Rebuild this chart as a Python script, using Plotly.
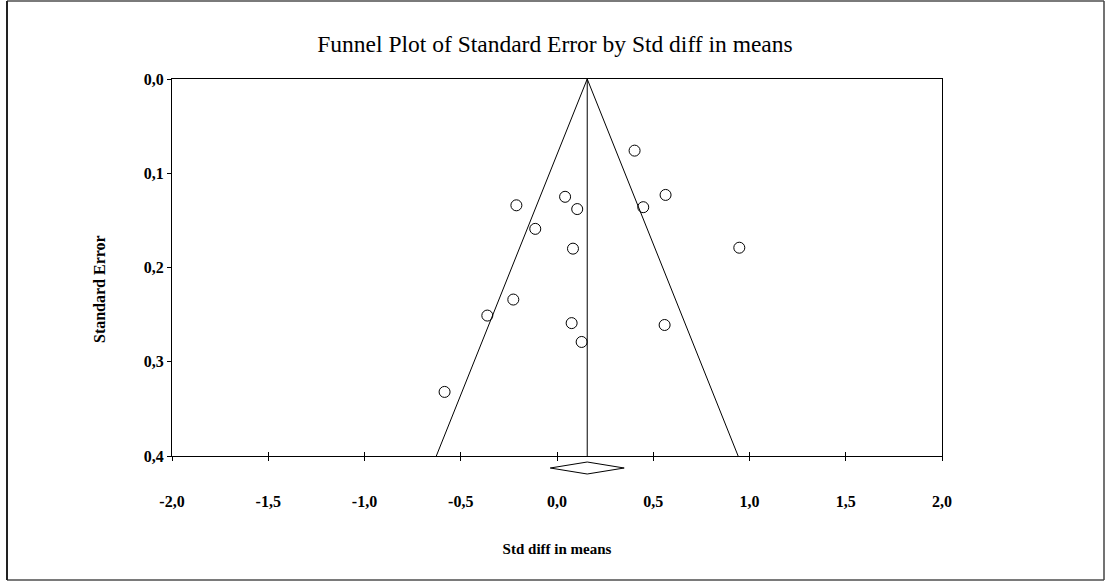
import plotly.graph_objects as go

# ---- data ----
effect = [0.403, -0.211, 0.042, 0.105, -0.113, 0.083, 0.564, 0.448, 0.947,
          -0.227, -0.362, 0.076, 0.128, 0.559, -0.584]
std_err = [0.076, 0.134, 0.125, 0.138, 0.159, 0.180, 0.123, 0.136, 0.179,
           0.234, 0.251, 0.259, 0.279, 0.261, 0.332]
pooled_mean = 0.157
pooled_ci = [-0.035, 0.349]
se_max = 0.4

x_tickvals = [-2.0, -1.5, -1.0, -0.5, 0.0, 0.5, 1.0, 1.5, 2.0]
x_ticktext = ["-2,0", "-1,5", "-1,0", "-0,5", "0,0", "0,5", "1,0", "1,5", "2,0"]
y_tickvals = [0.0, 0.1, 0.2, 0.3, 0.4]
y_ticktext = ["0,0", "0,1", "0,2", "0,3", "0,4"]

FONT = "Liberation Serif"

fig = go.Figure()

# funnel (pseudo 95% limits)
fig.add_trace(go.Scatter(
    x=[pooled_mean - 1.96 * se_max, pooled_mean, pooled_mean + 1.96 * se_max],
    y=[se_max, 0.0, se_max],
    mode="lines", line=dict(color="black", width=1),
    hoverinfo="skip", showlegend=False))
# vertical mean line
fig.add_trace(go.Scatter(
    x=[pooled_mean, pooled_mean], y=[0.0, se_max],
    mode="lines", line=dict(color="black", width=1),
    hoverinfo="skip", showlegend=False))
# studies
fig.add_trace(go.Scatter(
    x=effect, y=std_err, mode="markers",
    marker=dict(symbol="circle-open", size=11, color="black",
                line=dict(color="black", width=1)),
    showlegend=False, cliponaxis=False))

# pixel geometry
W, H = 1107, 583
L, R, T, B = 172, 165, 79, 127
pw, ph = W - L - R, H - T - B

def px_x(p):
    return (p - L) / pw

def px_y(p):
    return (H - B - p) / ph

# diamond (x in data, y in paper)
yc, yt, yb = px_y(468), px_y(462), px_y(474)
diamond = (f"M {pooled_ci[0]},{yc} L {pooled_mean},{yt} L {pooled_ci[1]},{yc} "
           f"L {pooled_mean},{yb} Z")
shapes = [dict(type="path", path=diamond, xref="x", yref="paper",
               line=dict(color="black", width=1), fillcolor="white")]

# outer border
bx0, bx1, by0, by1 = px_x(7), px_x(1104), px_y(580), px_y(1)
shapes += [
    dict(type="line", xref="paper", yref="paper", x0=bx0, x1=bx1, y0=by1, y1=by1,
         line=dict(color="#7a7a7a", width=2)),
    dict(type="line", xref="paper", yref="paper", x0=bx0, x1=bx1, y0=by0, y1=by0,
         line=dict(color="#7a7a7a", width=2)),
    dict(type="line", xref="paper", yref="paper", x0=bx0, x1=bx0, y0=by0, y1=by1,
         line=dict(color="#222222", width=2)),
    dict(type="line", xref="paper", yref="paper", x0=bx1, x1=bx1, y0=by0, y1=by1,
         line=dict(color="#444444", width=1.5)),
]

fig.update_layout(
    width=W, height=H,
    margin=dict(l=L, r=R, t=T, b=B),
    paper_bgcolor="white", plot_bgcolor="white",
    font=dict(family=FONT, color="black"),
    title=dict(text="Funnel Plot of Standard Error by Std diff in means",
               x=555 / W, xref="container", xanchor="center",
               y=1 - 44 / H, yref="container", yanchor="middle",
               font=dict(family=FONT, size=23.5, color="black")),
    shapes=shapes,
    xaxis=dict(range=[-2, 2], tickvals=x_tickvals, ticktext=x_ticktext,
               ticks="outside", ticklen=4, tickcolor="black", tickwidth=1,
               showline=True, linecolor="black", linewidth=1, mirror=True,
               showgrid=False, zeroline=False,
               ticklabelstandoff=27,
               tickfont=dict(family=FONT, size=16, color="black", weight="bold"),
               title=dict(text="Std diff in means", standoff=34,
                          font=dict(family=FONT, size=15, color="black", weight="bold"))),
    xaxis2=dict(range=[-2, 2], overlaying="x", anchor="y", side="bottom",
                tickvals=x_tickvals, ticks="inside", ticklen=4, tickcolor="black",
                showticklabels=False, showline=False, showgrid=False, zeroline=False),
    yaxis=dict(range=[se_max, 0], tickvals=y_tickvals, ticktext=y_ticktext,
               ticks="outside", ticklen=4, tickcolor="black", tickwidth=1,
               showline=True, linecolor="black", linewidth=1, mirror=True,
               showgrid=False, zeroline=False,
               tickfont=dict(family=FONT, size=16, color="black", weight="bold")),
    annotations=[dict(text="Standard Error", textangle=-90, showarrow=False,
                      xref="paper", yref="paper", x=px_x(99), y=px_y(289),
                      xanchor="center", yanchor="middle",
                      font=dict(family=FONT, size=16, color="black", weight="bold"))],
)
# dummy trace so xaxis2 is drawn
fig.add_trace(go.Scatter(x=[None], y=[None], xaxis="x2", yaxis="y",
                         showlegend=False, hoverinfo="skip"))

fig.write_html("out.html")
